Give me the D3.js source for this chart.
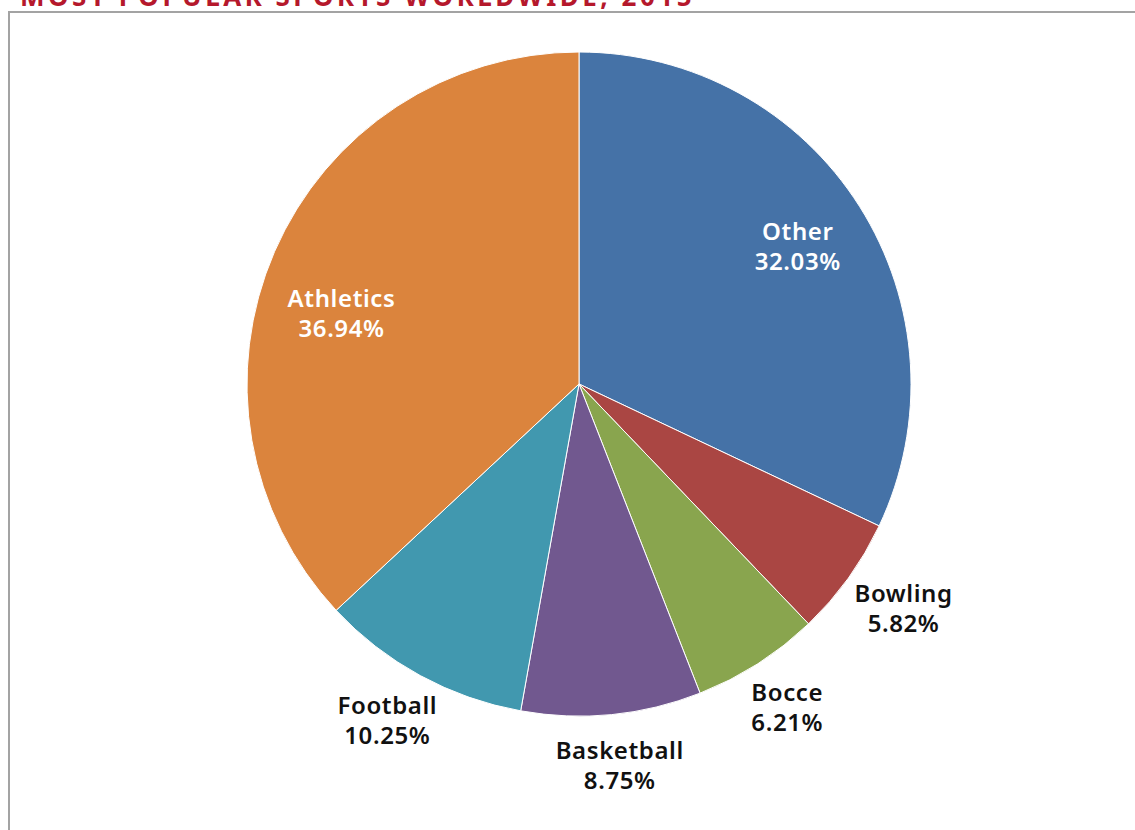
<!DOCTYPE html>
<html>
<head>
<meta charset="utf-8">
<script src="https://cdn.jsdelivr.net/npm/d3@7"></script>
<style>
  html, body { margin: 0; padding: 0; background: #fff; }
  svg { display: block; }
</style>
</head>
<body>
<svg id="chart" width="1135" height="830"></svg>
<script>
// Share of fans by sport, clockwise from 12 o'clock
const sports = ["Other", "Bowling", "Bocce", "Basketball", "Football", "Athletics"];
const shares = [32.03, 5.82, 6.21, 8.75, 10.25, 36.94];
const sliceColors = ["#4572a7", "#aa4643", "#89a54e", "#71588f", "#4198af", "#db843d"];
const insideLabels = ["Other", "Athletics"];
const chartTitle = "MOST POPULAR SPORTS WORLDWIDE, 2015";

const W = 1135, H = 830;
const cx = 579, cy = 384, R = 332;
const svg = d3.select("#chart");
const font = "'Noto Sans', 'Open Sans', sans-serif";

// Title, partly above the top edge of the page
svg.append("text")
  .attr("x", 20).attr("y", 6)
  .attr("fill", "#b5182c")
  .attr("font-family", font)
  .attr("font-weight", 700)
  .attr("font-size", 26)
  .attr("letter-spacing", 3.5)
  .text(chartTitle);

// Panel frame
svg.append("rect")
  .attr("x", 9).attr("y", 12)
  .attr("width", W + 20).attr("height", H + 20)
  .attr("fill", "none")
  .attr("stroke", "#a3a3a3")
  .attr("stroke-width", 2);

const data = sports.map((s, i) => ({ sport: s, value: shares[i], color: sliceColors[i] }));
const pie = d3.pie().sort(null).value(d => d.value);
const arcs = pie(data);
const arc = d3.arc().innerRadius(0).outerRadius(R);

const g = svg.append("g").attr("transform", `translate(${cx},${cy})`);

g.selectAll("path.slice")
  .data(arcs)
  .enter().append("path")
  .attr("class", "slice")
  .attr("d", arc)
  .attr("fill", d => d.data.color)
  .attr("stroke", "#fff")
  .attr("stroke-width", 1)
  .attr("stroke-linejoin", "round");

// Labels: two lines, name and percentage
const inArc = d3.arc().innerRadius(R * 0.78).outerRadius(R * 0.78);
const outR = R + 19;

const labels = g.selectAll("g.label")
  .data(arcs)
  .enter().append("g")
  .attr("class", "label");

labels.each(function(d) {
  const inside = insideLabels.includes(d.data.sport);
  const t = d3.select(this).append("text")
    .attr("text-anchor", "middle")
    .attr("font-family", font)
    .attr("font-weight", 600)
    .attr("font-size", 24)
    .attr("letter-spacing", 0.6)
    .attr("fill", inside ? "#ffffff" : "#111111");
  t.append("tspan").attr("x", 0).attr("y", 0).text(d.data.sport);
  t.append("tspan").attr("x", 0).attr("y", 30).text(d3.format(".2f")(d.value) + "%");

  const bb = this.getBBox();
  const mid = (d.startAngle + d.endAngle) / 2;
  const sx = Math.sin(mid), sy = -Math.cos(mid);
  let px, py;
  if (inside) {
    // inside labels sit a little lower on the left half, where the text hangs below the centroid
    [px, py] = inArc.centroid(d);
    if (sx < 0) py += bb.height / 2;
  } else {
    px = outR * sx + (bb.width / 2) * sx;
    py = outR * sy + (bb.height / 2) * sy;
  }
  const ox = px - (bb.x + bb.width / 2);
  const oy = py - (bb.y + bb.height / 2);
  d3.select(this).attr("transform", `translate(${ox},${oy})`);
});
</script>
</body>
</html>
